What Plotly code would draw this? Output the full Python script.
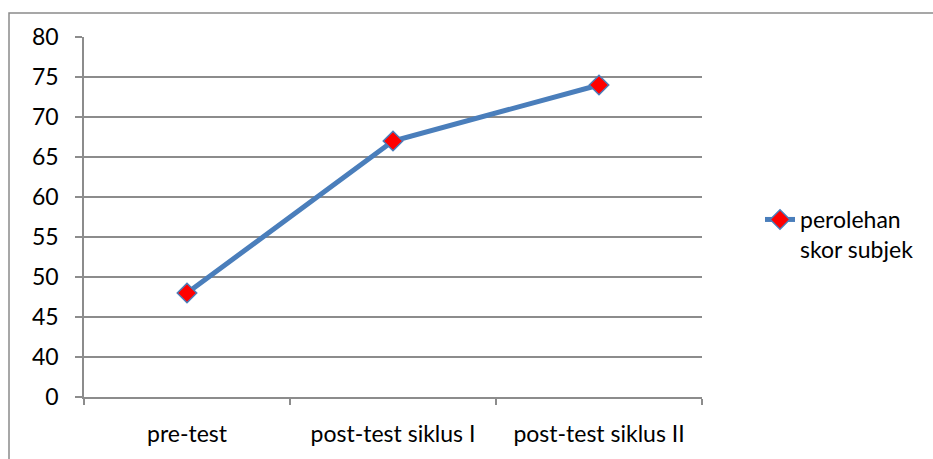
import plotly.graph_objects as go

# Test stages and the score obtained at each one
stages = ["pre-test", "post-test siklus I", "post-test siklus II"]
scores = [48, 67, 74]

# Y ticks: the bottom tick stands for zero (axis break below 40)
y_tickvals = [35, 40, 45, 50, 55, 60, 65, 70, 75, 80]
y_ticktext = ["0", "40", "45", "50", "55", "60", "65", "70", "75", "80"]

W, H = 933, 459
L, R, T, B = 84, 231, 37, 62
pw, ph = W - L - R, H - T - B

FONT = dict(family="Lato, Carlito, Calibri, sans-serif", size=23, color="#000000")
GRID = "#8c8c8c"

fig = go.Figure()
fig.add_trace(go.Scatter(
    x=stages, y=scores,
    mode="lines+markers",
    name="perolehan<br>skor subjek",
    line=dict(color="#4a7ebb", width=5),
    marker=dict(symbol="diamond", size=15, color="#ff0000",
                line=dict(color="#4a7ebb", width=1.5)),
))

# outer chart frame
def px_x(v):
    return (v - L) / pw

def px_y(v):
    return (H - B - v) / ph

fig.add_shape(type="rect", xref="paper", yref="paper",
              x0=px_x(9), x1=px_x(960), y0=px_y(13), y1=px_y(480),
              line=dict(color="#8a8a8a", width=1.5), fillcolor="rgba(0,0,0,0)",
              layer="below")

fig.update_layout(
    width=W, height=H,
    margin=dict(l=L, r=R, t=T, b=B, pad=0),
    paper_bgcolor="white", plot_bgcolor="white",
    font=FONT,
    showlegend=True,
    legend=dict(x=px_x(760), y=px_y(198), xanchor="left", yanchor="top",
                valign="top", font=FONT, bgcolor="rgba(0,0,0,0)",
                itemwidth=30, tracegroupgap=0),
    xaxis=dict(
        type="category", range=[-0.5, 2.5],
        showline=True, linecolor=GRID, linewidth=1.5,
        showgrid=False, zeroline=False,
        ticks="outside", tickson="boundaries", ticklen=6,
        tickcolor=GRID, tickwidth=1.5,
        ticklabelstandoff=16,
    ),
    yaxis=dict(
        range=[35, 80], tickvals=y_tickvals, ticktext=y_ticktext,
        showline=True, linecolor=GRID, linewidth=1.5,
        showgrid=True, gridcolor=GRID, gridwidth=1.5,
        zeroline=False,
        ticks="outside", ticklen=7, tickcolor=GRID, tickwidth=1.5,
        ticklabelstandoff=12,
    ),
)

fig.write_html("out.html")
